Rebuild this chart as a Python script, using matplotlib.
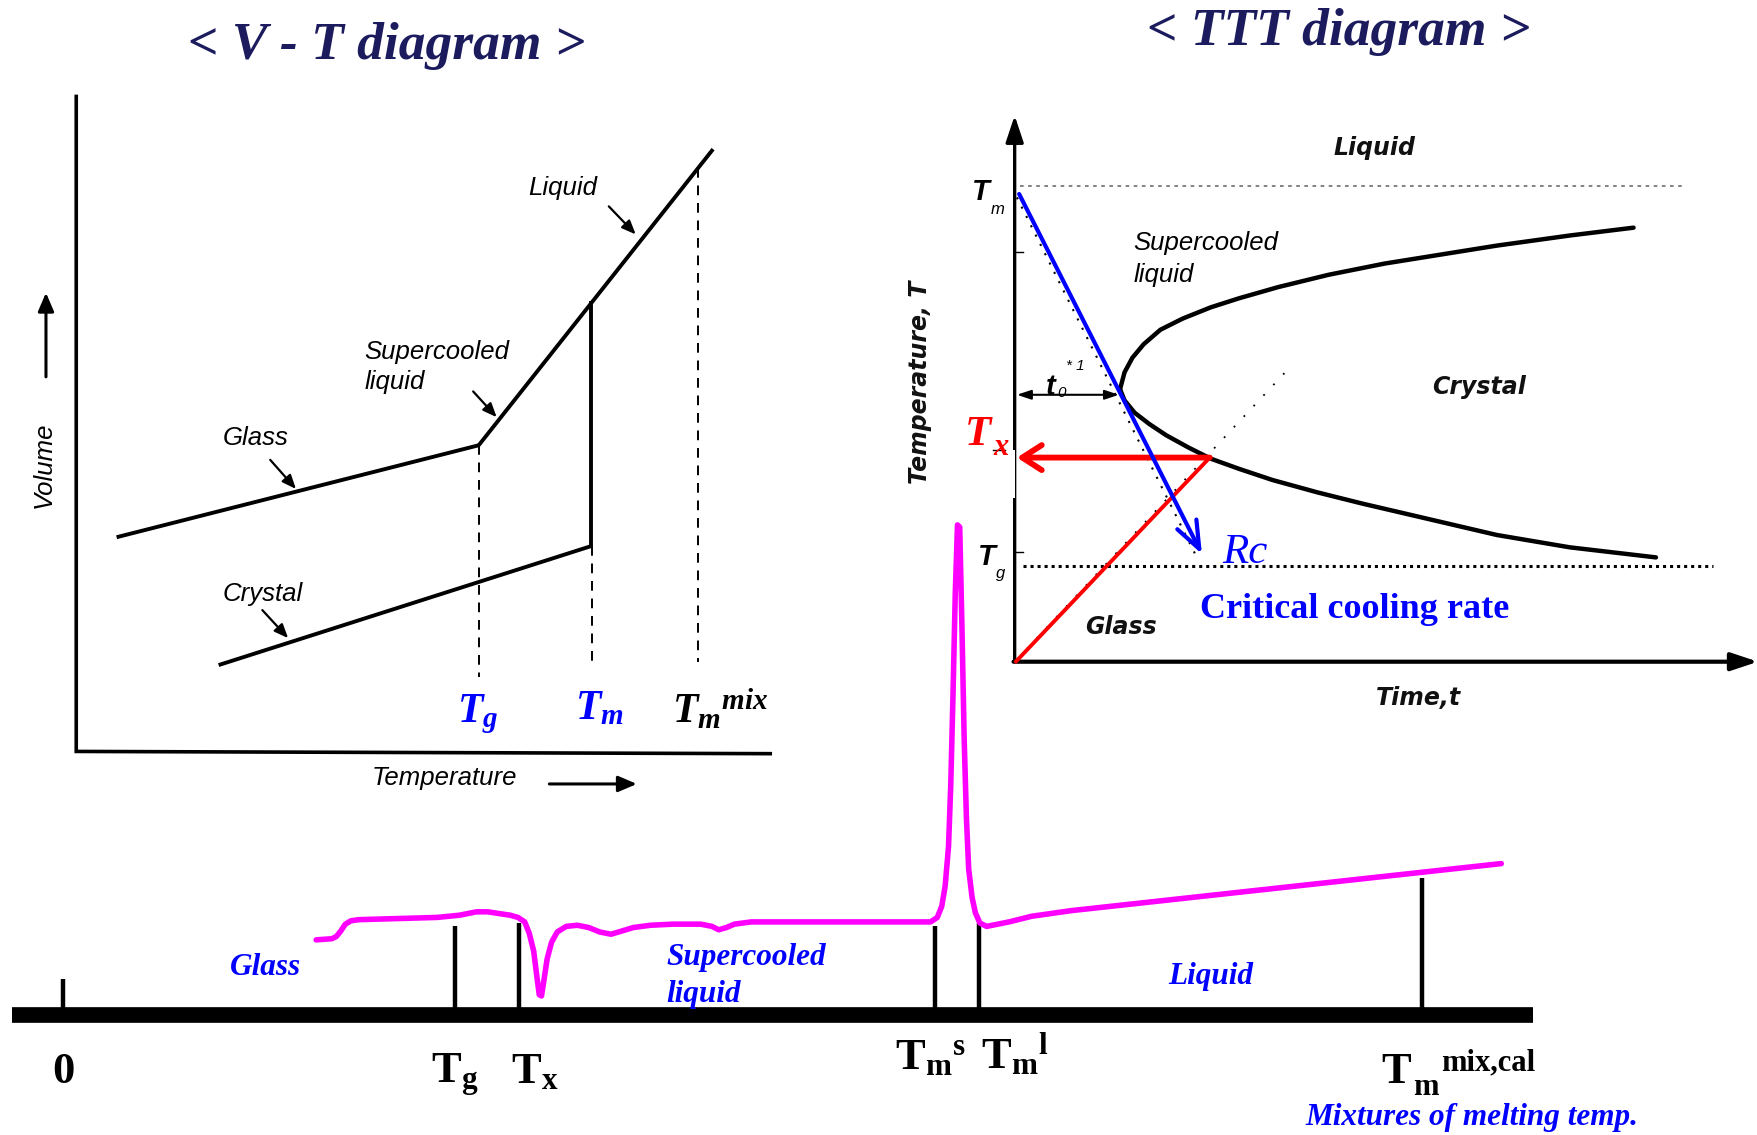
import matplotlib
matplotlib.use("Agg")
import matplotlib.pyplot as plt
from matplotlib.patches import Rectangle

plt.rcParams.update({
    'mathtext.fontset': 'custom',
    'mathtext.rm': 'Liberation Serif:bold',
    'mathtext.it': 'Liberation Serif:bold:italic',
    'mathtext.bf': 'Liberation Serif:bold',
    'mathtext.sf': 'Liberation Sans:italic',
})

# drawing space (reference units)
W, H = 1568, 1012

# ---------------- V-T diagram ----------------
vt_axis_x = [68, 68, 687]
vt_axis_y = [86, 670, 672]
glass_T, glass_V = [104, 427], [479, 397]
liquid_T, liquid_V = [427, 636], [397, 133]
crystal_T, crystal_V = [195, 527], [593, 487]
melt_T, melt_V = [527, 527], [268, 487]
vt_dash_T = [427, 528, 623]
vt_dash_top = [397, 487, 150]
vt_dash_bot = [604, 595, 590]

# ---------------- TTT diagram ----------------
ttt_x0, ttt_y0 = 905, 590
ttt_ytop, ttt_xright = 103, 1568
Tm_level, Tg_level = 166, 505
nose_upper_t = [999, 1003, 1010, 1020, 1035, 1055, 1080, 1105, 1140, 1185, 1235, 1285, 1335, 1400, 1457]
nose_upper_T = [347, 332, 319, 307, 294, 284, 274, 266, 256, 245, 235, 227, 219, 210, 203]
nose_lower_t = [999, 1003, 1012, 1025, 1040, 1060, 1080, 1105, 1135, 1175, 1215, 1275, 1335, 1400, 1477]
nose_lower_T = [347, 357, 368, 378, 388, 399, 409, 418, 428, 439, 449, 463, 477, 488, 497]
cool_t, cool_T = [909, 1072], [173, 494]
heat_t, heat_T = [906, 1079], [590, 408]
Tx_level = 408

# ---------------- DSC trace ----------------
dsc_x = [282, 296, 300, 304, 308, 313, 320, 390, 410, 425, 435, 448, 455, 462, 468,
         472, 476, 479, 481, 483, 485, 488, 492, 497, 505, 515, 525, 535, 545, 555,
         565, 580, 600, 625, 635, 641, 648, 655, 670, 830, 836, 840, 843, 846, 848,
         850, 852, 854, 856, 858, 860, 862, 864, 867, 870, 874, 880, 900, 920, 955, 1339]
dsc_y = [838, 837, 835, 830, 824, 821, 820, 818, 816, 813, 813, 815, 816, 818, 822,
         832, 848, 872, 887, 888, 875, 855, 840, 831, 826, 825, 827, 831, 833, 830,
         827, 825, 824, 824, 826, 829, 827, 824, 822, 822, 818, 808, 790, 755, 700,
         620, 530, 468, 470, 560, 660, 730, 775, 800, 814, 823, 826, 822, 817, 812, 770]
dsc_tick_x = [56, 406, 463, 834, 873, 1268]
dsc_tick_top = [873, 826, 823, 826, 823, 783]
base_x = [11, 1367]
base_y = 905

fig = plt.figure(figsize=(17.58, 11.35), dpi=100)
ax = fig.add_axes([0, 0, 1, 1])
ax.set_xlim(0, W)
ax.set_ylim(H, 0)
ax.axis('off')

navy = '#1b1b5e'
blue = '#0000ff'
mag = '#ff00ff'

# ---- V-T ----
ax.text(345, 53, '< V - T diagram >', ha='center', va='baseline', fontsize=38.5,
        family='Liberation Serif', weight='bold', style='italic', color=navy)
ax.plot(vt_axis_x, vt_axis_y, color='black', lw=2.6, solid_joinstyle='miter')
for xs, ys in [(glass_T, glass_V), (liquid_T, liquid_V), (crystal_T, crystal_V), (melt_T, melt_V)]:
    ax.plot(xs, ys, color='black', lw=2.8, solid_capstyle='butt')
for x, t, b in zip(vt_dash_T, vt_dash_top, vt_dash_bot):
    ax.plot([x, x], [t, b], color='black', lw=1.4, linestyle=(0, (5, 4)))

sans_it = dict(family='Liberation Sans', style='italic', fontsize=18.5, color='black')
ax.text(502, 174, 'Liquid', ha='center', va='baseline', **sans_it)
ax.text(325, 320, 'Supercooled', ha='left', va='baseline', **sans_it)
ax.text(325, 347, 'liquid', ha='left', va='baseline', **sans_it)
ax.text(228, 397, 'Glass', ha='center', va='baseline', **sans_it)
ax.text(234, 536, 'Crystal', ha='center', va='baseline', **sans_it)
ax.text(396, 700, 'Temperature', ha='center', va='baseline', **sans_it)
ax.text(39, 414, 'Volume', ha='center', va='center', rotation=90, **sans_it)

arr = dict(arrowstyle='-|>,head_length=0.6,head_width=0.25', color='black', lw=1.6,
           shrinkA=0, shrinkB=0, mutation_scale=14)
for (x0, y0, x1, y1) in [(543, 184, 567, 209), (422, 349, 443, 372),
                         (241, 410, 264, 436), (234, 544, 257, 569)]:
    ax.annotate('', xy=(x1, y1), xytext=(x0, y0), arrowprops=arr)
big = dict(arrowstyle='-|>,head_length=0.7,head_width=0.3', color='black', lw=2.2,
           shrinkA=0, shrinkB=0, mutation_scale=16)
ax.annotate('', xy=(41, 261), xytext=(41, 336), arrowprops=big)
ax.annotate('', xy=(568, 699), xytext=(490, 699), arrowprops=big)

ax.text(408, 644, r'$T_g$', ha='left', va='baseline', fontsize=30, color=blue)
ax.text(513, 641, r'$T_m$', ha='left', va='baseline', fontsize=30, color=blue)
ax.text(599, 644, r'$T_m{}^{mix}$', ha='left', va='baseline', fontsize=30, color='black')

# ---- TTT ----
ax.text(1194, 40, '< TTT diagram >', ha='center', va='baseline', fontsize=38.5,
        family='Liberation Serif', weight='bold', style='italic', color=navy)
ax.plot([ttt_x0 + 5, 1502], [Tm_level, Tm_level], color='#777777', lw=1.3, linestyle=(0, (2, 2.5)))
ax.plot([ttt_x0 + 7, 1528], [Tg_level, Tg_level], color='black', lw=2.2, linestyle=(0, (1, 1.3)))
ax.plot([ttt_x0 + 2, 1150], [ttt_y0 - 2, 328], color='black', lw=1.3, linestyle=(0, (1, 7)))
ax.plot([907, 1066], [176, 494], color='black', lw=1.5, linestyle=(0, (1, 4)))
ax.annotate('', xy=(ttt_x0, ttt_ytop), xytext=(ttt_x0, ttt_y0),
            arrowprops=dict(arrowstyle='-|>,head_length=0.9,head_width=0.3', color='black',
                            lw=2.4, shrinkA=0, shrinkB=0, mutation_scale=18))
ax.annotate('', xy=(ttt_xright, ttt_y0), xytext=(ttt_x0 - 1, ttt_y0),
            arrowprops=dict(arrowstyle='-|>,head_length=0.9,head_width=0.3', color='black',
                            lw=3.0, shrinkA=0, shrinkB=0, mutation_scale=18))
# white gap on the temperature axis at Tx
ax.add_patch(Rectangle((897, 401), 8, 43, facecolor='white', edgecolor='none', zorder=3))
ax.plot([905.5, 905.5], [401, 444], color='black', lw=0.6, zorder=3)
ax.plot([886, 896], [401, 401], color='black', lw=1.0, zorder=3)
for ty in [225, 492]:
    ax.plot([ttt_x0, ttt_x0 + 7], [ty, ty], color='black', lw=1.0)
ax.plot(nose_upper_t, nose_upper_T, color='black', lw=3.2, solid_capstyle='round')
ax.plot(nose_lower_t, nose_lower_T, color='black', lw=3.2, solid_capstyle='round')

ax.plot(heat_t, heat_T, color='red', lw=2.8, solid_capstyle='round', zorder=4)
ax.annotate('', xy=(ttt_x0 + 2, Tx_level), xytext=(heat_t[1], Tx_level),
            arrowprops=dict(arrowstyle='->,head_length=0.7,head_width=0.45', color='red',
                            lw=4.2, shrinkA=0, shrinkB=0, mutation_scale=20), zorder=4)
ax.annotate('', xy=(cool_t[1], cool_T[1]), xytext=(cool_t[0], cool_T[0]),
            arrowprops=dict(arrowstyle='->,head_length=0.9,head_width=0.35', color=blue,
                            lw=3.0, shrinkA=0, shrinkB=0, mutation_scale=22), zorder=5)
ax.annotate('', xy=(998, 352), xytext=(907, 352),
            arrowprops=dict(arrowstyle='<|-|>,head_length=0.6,head_width=0.2', color='black',
                            lw=1.5, shrinkA=0, shrinkB=0, mutation_scale=14))

ttt_lab = dict(family='DejaVu Sans', weight='bold', style='oblique', fontsize=17, color='#111111')
ax.text(1226, 138, 'Liquid', ha='center', va='baseline', **ttt_lab)
ax.text(1319, 351, 'Crystal', ha='center', va='baseline', **ttt_lab)
ax.text(968, 565, 'Glass', ha='left', va='baseline', **ttt_lab)
ax.text(1265, 629, 'Time,t', ha='center', va='baseline', **ttt_lab)
ax.text(821, 341, 'Temperature, T', ha='center', va='center', rotation=90, **ttt_lab)
ax.text(1011, 223, 'Supercooled', ha='left', va='baseline', **sans_it)
ax.text(1011, 251, 'liquid', ha='left', va='baseline', **sans_it)

sym = dict(family='Liberation Sans', style='italic', weight='bold', color='black', va='baseline', ha='left')
ax.text(867, 178, 'T', fontsize=21, **sym)
ax.text(884, 191, 'm', fontsize=12, **dict(sym, weight='normal'))
ax.text(872, 504, 'T', fontsize=21, **sym)
ax.text(888, 515, 'g', fontsize=12, **dict(sym, weight='normal'))
ax.text(933, 352, 't', fontsize=21, **sym)
ax.text(943, 354, '0', fontsize=11, **dict(sym, weight='normal'))
ax.text(951, 330, '* 1', fontsize=11, **dict(sym, weight='normal'))

ser_bi_red = dict(family='Liberation Serif', style='italic', weight='bold', color='red',
                  va='baseline', ha='left')
ax.text(861, 397, 'T', fontsize=31, **ser_bi_red)
ax.text(886, 406, 'x', fontsize=22, **ser_bi_red)
ax.text(1090, 502, 'Rc', ha='left', va='baseline', fontsize=31, color=blue,
        family='Liberation Serif', style='italic')
ax.text(1070, 551, 'Critical cooling rate', ha='left', va='baseline', fontsize=26, color=blue,
        family='Liberation Serif', weight='bold')

# ---- DSC ----
ax.plot(base_x, [base_y, base_y], color='black', lw=11.3, solid_capstyle='butt')
for x, t in zip(dsc_tick_x, dsc_tick_top):
    ax.plot([x, x], [t, base_y], color='black', lw=3.2, solid_capstyle='butt')
ax.plot(dsc_x, dsc_y, color=mag, lw=4.0, solid_joinstyle='round', solid_capstyle='round')

ser_bi = dict(family='Liberation Serif', weight='bold', style='italic', fontsize=22.5, color=blue)
ax.text(237, 869, 'Glass', ha='center', va='baseline', **ser_bi)
ax.text(594, 860, 'Supercooled', ha='left', va='baseline', **ser_bi)
ax.text(594, 893, 'liquid', ha='left', va='baseline', **ser_bi)
ax.text(1080, 877, 'Liquid', ha='center', va='baseline', **ser_bi)
ax.text(1313, 1003, 'Mixtures of melting temp.', ha='center', va='baseline',
        **dict(ser_bi, fontsize=22.5))

blab = dict(ha='left', va='baseline', fontsize=32, color='black')
ax.text(57, 966, '0', ha='center', va='baseline', fontsize=32, family='Liberation Serif',
        weight='bold', color='black')
ax.text(384, 966, r'$\mathrm{T_g}$', **blab)
ax.text(456, 966, r'$\mathrm{T_x}$', **blab)
ax.text(798, 953, r'$\mathrm{T_m{}^s}$', **blab)
ax.text(875, 953, r'$\mathrm{T_m{}^l}$', **blab)
serb = dict(family='Liberation Serif', weight='bold', color='black', ha='left', va='baseline')
ax.text(1232, 966, 'T', fontsize=32, **serb)
ax.text(1260, 976, 'm', fontsize=22, **serb)
ax.text(1285, 954, 'mix,cal', fontsize=22, **serb)

fig.savefig('out.png', dpi=100, facecolor='white')
